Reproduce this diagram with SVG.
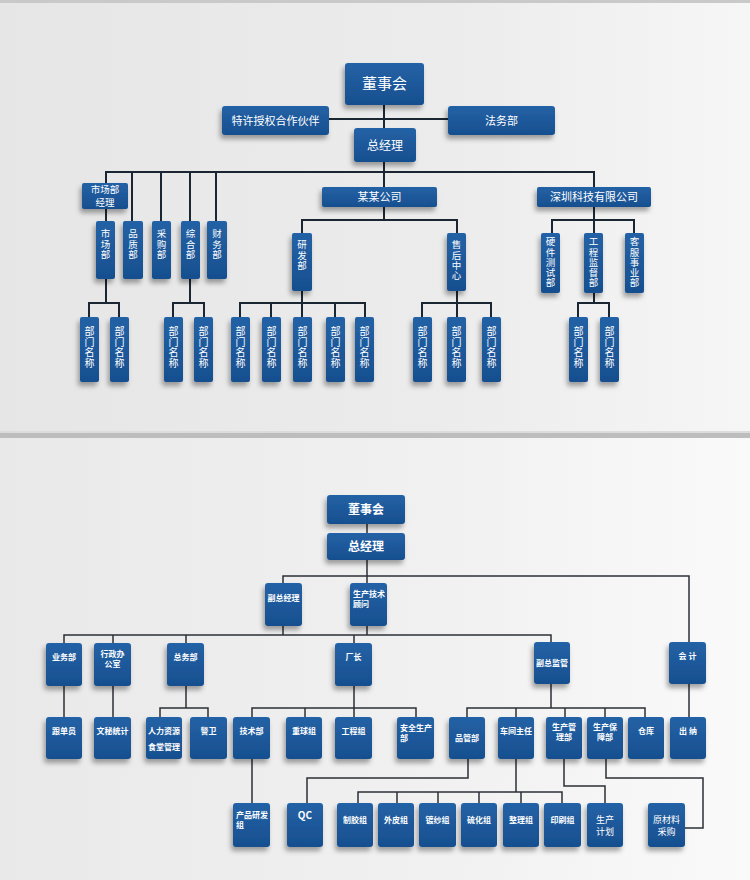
<svg xmlns="http://www.w3.org/2000/svg" width="750" height="880" viewBox="0 0 750 880">
<defs>
<linearGradient id="bgTop" x1="0" y1="0" x2="1" y2="0"><stop offset="0" stop-color="#e6e6e6"/><stop offset="0.6" stop-color="#ececec"/><stop offset="1" stop-color="#f6f6f6"/></linearGradient>
<linearGradient id="bgBot" x1="0" y1="0" x2="1" y2="0"><stop offset="0" stop-color="#e9e9e9"/><stop offset="0.6" stop-color="#f1f1f1"/><stop offset="1" stop-color="#fafafa"/></linearGradient>
<linearGradient id="boxG" x1="0" y1="0" x2="0" y2="1"><stop offset="0" stop-color="#2462a6"/><stop offset="1" stop-color="#174f8f"/></linearGradient>
<filter id="sh" x="-40%" y="-40%" width="180%" height="180%"><feDropShadow dx="-2" dy="4" stdDeviation="2.5" flood-color="#000" flood-opacity="0.35"/></filter>
<style>
.b{fill:url(#boxG);filter:url(#sh)}
.t{fill:#fff;font-family:"Noto Sans CJK SC","Noto Sans",sans-serif;text-anchor:middle}
.tl{fill:#fff;font-family:"Noto Sans CJK SC","Noto Sans",sans-serif;text-anchor:start}
.v{fill:#fff;font-family:"Noto Sans CJK SC","Noto Sans",sans-serif;writing-mode:vertical-rl;text-orientation:upright;text-anchor:start;font-size:9.5px;letter-spacing:0.7px}
.vn{font-size:10px;letter-spacing:0.8px}
.s11{font-size:11px}.s10{font-size:10px}.s8{font-size:8px;font-weight:bold}
.c1 line,.c1 polyline{stroke:#1b2633;stroke-width:2;fill:none}
.c2 line,.c2 polyline{stroke:#2b2f36;stroke-width:1.5;fill:none}
</style>
</defs>
<rect x="0" y="0" width="750" height="435" fill="url(#bgTop)"/>
<rect x="0" y="435" width="750" height="445" fill="url(#bgBot)"/>
<rect x="0" y="0" width="750" height="3" fill="#c9c9c9"/>
<rect x="0" y="431" width="750" height="3" fill="#dcdcdc"/>
<rect x="0" y="433" width="750" height="5" fill="#bdbdbd"/>

<!-- top connectors -->
<g id="connectors-top" class="c1">
<line x1="384" y1="105" x2="384" y2="187"/>
<line x1="329" y1="119" x2="448" y2="119"/>
<line x1="105" y1="172" x2="595" y2="172"/>
<line x1="106" y1="172" x2="106" y2="221"/>
<line x1="132" y1="172" x2="132" y2="221"/>
<line x1="161" y1="172" x2="161" y2="221"/>
<line x1="190" y1="172" x2="190" y2="221"/>
<line x1="216" y1="172" x2="216" y2="221"/>
<line x1="594" y1="172" x2="594" y2="233"/>
<line x1="384" y1="207" x2="384" y2="220"/>
<polyline points="302,233 302,220 457,220 457,233"/>
<polyline points="552,233 552,220 634,220 634,233"/>
<line x1="106" y1="279" x2="106" y2="303"/>
<polyline points="89,317 89,303 119,303 119,317"/>
<line x1="190" y1="279" x2="190" y2="303"/>
<polyline points="173,317 173,303 204,303 204,317"/>
<line x1="302" y1="291" x2="302" y2="317"/>
<polyline points="240,317 240,303 365,303 365,317"/>
<line x1="271" y1="303" x2="271" y2="317"/>
<line x1="335" y1="303" x2="335" y2="317"/>
<line x1="457" y1="291" x2="457" y2="317"/>
<polyline points="422,317 422,303 491,303 491,317"/>
<line x1="594" y1="293" x2="594" y2="303"/>
<polyline points="578,317 578,303 609,303 609,317"/>
</g>

<!-- top nodes -->
<g id="t-dongshihui"><rect class="b" x="345" y="63" width="79" height="42" rx="3"/><text class="t" x="384.5" y="89" font-size="15">董事会</text></g>
<g id="t-texu"><rect class="b" x="222" y="106" width="107" height="29" rx="3"/><text class="t s11" x="275.5" y="124.5">特许授权合作伙伴</text></g>
<g id="t-fawu"><rect class="b" x="448" y="106" width="107" height="29" rx="3"/><text class="t s11" x="501.5" y="124.5">法务部</text></g>
<g id="t-zongjingli"><rect class="b" x="354" y="128" width="62" height="34" rx="3"/><text class="t" x="385" y="149.5" font-size="12">总经理</text></g>
<g id="t-scbjl"><rect class="b" x="82" y="183" width="46" height="26" rx="2"/><text class="t" x="105" y="193" font-size="9.5">市场部<tspan x="105" dy="12.5">经理</tspan></text></g>
<g id="t-moumou"><rect class="b" x="322" y="187" width="115" height="20" rx="2"/><text class="t s11" x="379.5" y="201">某某公司</text></g>
<g id="t-shenzhen"><rect class="b" x="537" y="187" width="114" height="20" rx="2"/><text class="t s11" x="594" y="201">深圳科技有限公司</text></g>

<g id="t-shichang"><rect class="b" x="96" y="221" width="19" height="58" rx="2"/><text class="v" x="105.5" y="229">市场部</text></g>
<g id="t-pinzhi"><rect class="b" x="123" y="221" width="20" height="58" rx="2"/><text class="v" x="133" y="229">品质部</text></g>
<g id="t-caigou"><rect class="b" x="152" y="221" width="19" height="58" rx="2"/><text class="v" x="161.5" y="229">采购部</text></g>
<g id="t-zonghe"><rect class="b" x="181" y="221" width="19" height="58" rx="2"/><text class="v" x="190.5" y="229">综合部</text></g>
<g id="t-caiwu"><rect class="b" x="207" y="221" width="20" height="58" rx="2"/><text class="v" x="217" y="229">财务部</text></g>
<g id="t-yanfa"><rect class="b" x="292" y="233" width="20" height="58" rx="2"/><text class="v" x="302" y="240">研发部</text></g>
<g id="t-shouhou"><rect class="b" x="447" y="233" width="19" height="58" rx="2"/><text class="v" x="456.5" y="240">售后中心</text></g>
<g id="t-yingjian"><rect class="b" x="541" y="233" width="19" height="60" rx="2"/><text class="v" x="550.5" y="237">硬件测试部</text></g>
<g id="t-gongcheng"><rect class="b" x="584" y="233" width="19" height="60" rx="2"/><text class="v" x="593.5" y="237">工程监督部</text></g>
<g id="t-kefu"><rect class="b" x="625" y="233" width="19" height="60" rx="2"/><text class="v" x="634.5" y="237">客服事业部</text></g>

<g id="t-bm1"><rect class="b" x="80" y="317" width="19" height="65" rx="2"/><text class="v vn" x="89.5" y="326">部门名称</text></g>
<g id="t-bm2"><rect class="b" x="110" y="317" width="19" height="65" rx="2"/><text class="v vn" x="119.5" y="326">部门名称</text></g>
<g id="t-bm3"><rect class="b" x="164" y="317" width="19" height="65" rx="2"/><text class="v vn" x="173.5" y="326">部门名称</text></g>
<g id="t-bm4"><rect class="b" x="194" y="317" width="19" height="65" rx="2"/><text class="v vn" x="203.5" y="326">部门名称</text></g>
<g id="t-bm5"><rect class="b" x="231" y="317" width="19" height="65" rx="2"/><text class="v vn" x="240.5" y="326">部门名称</text></g>
<g id="t-bm6"><rect class="b" x="262" y="317" width="19" height="65" rx="2"/><text class="v vn" x="271.5" y="326">部门名称</text></g>
<g id="t-bm7"><rect class="b" x="293" y="317" width="19" height="65" rx="2"/><text class="v vn" x="302.5" y="326">部门名称</text></g>
<g id="t-bm8"><rect class="b" x="326" y="317" width="19" height="65" rx="2"/><text class="v vn" x="335.5" y="326">部门名称</text></g>
<g id="t-bm9"><rect class="b" x="355" y="317" width="19" height="65" rx="2"/><text class="v vn" x="364.5" y="326">部门名称</text></g>
<g id="t-bm10"><rect class="b" x="413" y="317" width="19" height="65" rx="2"/><text class="v vn" x="422.5" y="326">部门名称</text></g>
<g id="t-bm11"><rect class="b" x="447" y="317" width="19" height="65" rx="2"/><text class="v vn" x="456.5" y="326">部门名称</text></g>
<g id="t-bm12"><rect class="b" x="482" y="317" width="19" height="65" rx="2"/><text class="v vn" x="491.5" y="326">部门名称</text></g>
<g id="t-bm13"><rect class="b" x="569" y="317" width="19" height="65" rx="2"/><text class="v vn" x="578.5" y="326">部门名称</text></g>
<g id="t-bm14"><rect class="b" x="600" y="317" width="19" height="65" rx="2"/><text class="v vn" x="609.5" y="326">部门名称</text></g>

<!-- bottom connectors -->
<g id="connectors-bottom" class="c2">
<line x1="367" y1="524" x2="367" y2="533"/>
<line x1="367" y1="560" x2="367" y2="583"/>
<polyline points="283,583 283,576 689,576 689,642"/>
<line x1="283" y1="626" x2="283" y2="635"/>
<line x1="367" y1="626" x2="367" y2="635"/>
<polyline points="64,643 64,635 551,635 551,642"/>
<line x1="113" y1="635" x2="113" y2="643"/>
<line x1="186" y1="635" x2="186" y2="643"/>
<line x1="354" y1="635" x2="354" y2="643"/>
<line x1="64" y1="686" x2="64" y2="717"/>
<line x1="113" y1="686" x2="113" y2="717"/>
<line x1="186" y1="686" x2="186" y2="708"/>
<polyline points="160,717 160,708 208,708 208,717"/>
<line x1="354" y1="686" x2="354" y2="717"/>
<polyline points="252,717 252,708 416,708 416,717"/>
<line x1="305" y1="708" x2="305" y2="717"/>
<line x1="551" y1="684" x2="551" y2="708"/>
<polyline points="467,717 467,708 645,708 645,717"/>
<line x1="516" y1="708" x2="516" y2="717"/>
<line x1="565" y1="708" x2="565" y2="717"/>
<line x1="605" y1="708" x2="605" y2="717"/>
<line x1="689" y1="684" x2="689" y2="717"/>
<line x1="252" y1="759" x2="252" y2="803"/>
<polyline points="468,759 468,778 307,778 307,803"/>
<line x1="516" y1="759" x2="516" y2="792"/>
<polyline points="358,803 358,792 562,792 562,803"/>
<line x1="397" y1="792" x2="397" y2="803"/>
<line x1="438" y1="792" x2="438" y2="803"/>
<line x1="479" y1="792" x2="479" y2="803"/>
<line x1="521" y1="792" x2="521" y2="803"/>
<polyline points="564,759 564,786 605,786 605,803"/>
<polyline points="606,759 606,778 703,778 703,828 685,828"/>
</g>

<!-- bottom nodes -->
<g id="b-dongshihui"><rect class="b" x="327" y="495" width="78" height="29" rx="3"/><text class="t" x="366" y="514" font-size="12" font-weight="bold">董事会</text></g>
<g id="b-zongjingli"><rect class="b" x="327" y="533" width="78" height="27" rx="3"/><text class="t" x="366" y="551" font-size="12" font-weight="bold">总经理</text></g>
<g id="b-fuzong"><rect class="b" x="265" y="583" width="37" height="43" rx="3"/><text class="t s8" x="283.5" y="601">副总经理</text></g>
<g id="b-guwen"><rect class="b" x="350" y="583" width="37" height="43" rx="3"/><text class="tl s8" x="353" y="597">生产技术<tspan x="353" dy="9.5">顾问</tspan></text></g>
<g id="b-yewu"><rect class="b" x="46" y="643" width="36" height="43" rx="3"/><text class="t s8" x="64" y="660">业务部</text></g>
<g id="b-xingzheng"><rect class="b" x="94" y="643" width="37" height="43" rx="3"/><text class="t s8" x="112.5" y="657">行政办<tspan x="112.5" dy="10">公室</tspan></text></g>
<g id="b-zongwu"><rect class="b" x="167" y="643" width="37" height="43" rx="3"/><text class="t s8" x="185.5" y="660">总务部</text></g>
<g id="b-changzhang"><rect class="b" x="335" y="643" width="37" height="43" rx="3"/><text class="t s8" x="353.5" y="660">厂长</text></g>
<g id="b-fuzongjianguan"><rect class="b" x="534" y="642" width="36" height="42" rx="3"/><text class="t s8" x="552" y="666">副总监管</text></g>
<g id="b-kuaiji"><rect class="b" x="669" y="642" width="37" height="42" rx="3"/><text class="t s8" x="687.5" y="659">会 计</text></g>

<g id="b-gendan"><rect class="b" x="46" y="717" width="36" height="42" rx="3"/><text class="t s8" x="64" y="734">跟单员</text></g>
<g id="b-wenmi"><rect class="b" x="94" y="717" width="37" height="42" rx="3"/><text class="t s8" x="112.5" y="734">文秘统计</text></g>
<g id="b-renli"><rect class="b" x="146" y="717" width="36" height="42" rx="3"/><text class="t s8" x="164" y="734">人力资源<tspan x="164" dy="16">食堂管理</tspan></text></g>
<g id="b-jingwei"><rect class="b" x="190" y="717" width="37" height="42" rx="3"/><text class="t s8" x="208.5" y="734">警卫</text></g>
<g id="b-jishu"><rect class="b" x="233" y="717" width="37" height="42" rx="3"/><text class="t s8" x="251.5" y="734">技术部</text></g>
<g id="b-zhongqiu"><rect class="b" x="286" y="717" width="36" height="42" rx="3"/><text class="t s8" x="304" y="734">重球组</text></g>
<g id="b-gongchengzu"><rect class="b" x="335" y="717" width="37" height="42" rx="3"/><text class="t s8" x="353.5" y="734">工程组</text></g>
<g id="b-anquan"><rect class="b" x="397" y="717" width="37" height="42" rx="3"/><text class="tl s8" x="400" y="731">安全生产<tspan x="400" dy="10">部</tspan></text></g>
<g id="b-pinguan"><rect class="b" x="449" y="717" width="36" height="42" rx="3"/><text class="t s8" x="467" y="741">品管部</text></g>
<g id="b-chejian"><rect class="b" x="498" y="717" width="36" height="42" rx="3"/><text class="t s8" x="516" y="734">车间主任</text></g>
<g id="b-shengchanguanli"><rect class="b" x="546" y="717" width="36" height="42" rx="3"/><text class="t s8" x="564" y="730">生产管<tspan x="564" dy="10">理部</tspan></text></g>
<g id="b-baozhang"><rect class="b" x="587" y="717" width="36" height="42" rx="3"/><text class="t s8" x="605" y="730">生产保<tspan x="605" dy="10">障部</tspan></text></g>
<g id="b-cangku"><rect class="b" x="628" y="717" width="36" height="42" rx="3"/><text class="t s8" x="646" y="734">仓库</text></g>
<g id="b-chuna"><rect class="b" x="670" y="717" width="36" height="42" rx="3"/><text class="t s8" x="688" y="734">出 纳</text></g>

<g id="b-chanpin"><rect class="b" x="233" y="803" width="37" height="44" rx="3"/><text class="tl s8" x="236" y="818">产品研发<tspan x="236" dy="10">组</tspan></text></g>
<g id="b-qc"><rect class="b" x="287" y="803" width="36" height="44" rx="3"/><text class="t" x="305" y="819" font-size="10" font-weight="bold" font-family="Liberation Sans,sans-serif">QC</text></g>
<g id="b-zhijiao"><rect class="b" x="337" y="803" width="36" height="44" rx="3"/><text class="t s8" x="355" y="823">制胶组</text></g>
<g id="b-waipi"><rect class="b" x="378" y="803" width="36" height="44" rx="3"/><text class="t s8" x="396" y="823">外皮组</text></g>
<g id="b-dusha"><rect class="b" x="419" y="803" width="37" height="44" rx="3"/><text class="t s8" x="437.5" y="823">镀纱组</text></g>
<g id="b-liuhua"><rect class="b" x="461" y="803" width="36" height="44" rx="3"/><text class="t s8" x="479" y="823">硫化组</text></g>
<g id="b-zhengli"><rect class="b" x="503" y="803" width="36" height="44" rx="3"/><text class="t s8" x="521" y="823">整理组</text></g>
<g id="b-yinshua"><rect class="b" x="544" y="803" width="37" height="44" rx="3"/><text class="t s8" x="562.5" y="823">印刷组</text></g>
<g id="b-jihua"><rect class="b" x="587" y="803" width="36" height="44" rx="3"/><text class="t" x="605" y="823" font-size="9">生产<tspan x="605" dy="12">计划</tspan></text></g>
<g id="b-yuancailiao"><rect class="b" x="648" y="803" width="37" height="44" rx="3"/><text class="t" x="666.5" y="823" font-size="9">原材料<tspan x="666.5" dy="12">采购</tspan></text></g>
</svg>
